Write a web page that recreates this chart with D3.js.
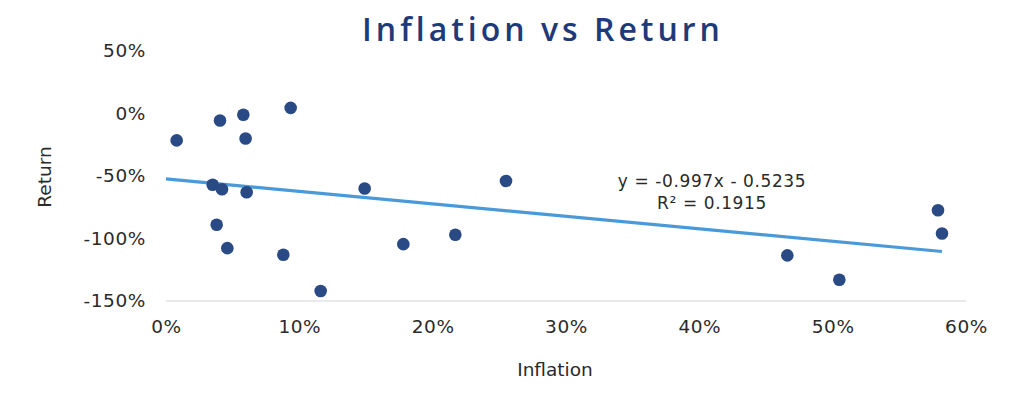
<!DOCTYPE html>
<html>
<head>
<meta charset="utf-8">
<script src="https://cdn.jsdelivr.net/npm/d3@7"></script>
<style>
  body { margin: 0; background: #fff; }
  text { font-family: "DejaVu Sans", sans-serif; }
</style>
</head>
<body>
<div id="chart"></div>
<script>
// data (inflation, return)
const inflation = [0.008, 0.0405, 0.058, 0.0935, 0.0597, 0.035, 0.042, 0.0605, 0.038, 0.046, 0.088, 0.116,
                   0.149, 0.178, 0.217, 0.255, 0.466, 0.505, 0.579, 0.582];
const returns = [-0.215, -0.056, -0.01, 0.045, -0.20, -0.57, -0.606, -0.63, -0.89, -1.077, -1.13, -1.42,
                 -0.60, -1.045, -0.97, -0.54, -1.135, -1.33, -0.774, -0.96];
const xTicks = [0, 0.1, 0.2, 0.3, 0.4, 0.5, 0.6];
const yTicks = [0.5, 0, -0.5, -1, -1.5];
const slope = -0.997, intercept = -0.5235;

const width = 1024, height = 400;
const svg = d3.select("#chart").append("svg")
    .attr("width", width)
    .attr("height", height);

let x = d3.scaleLinear().domain([0, 0.6]).range([166, 966]);
let y = d3.scaleLinear().domain([-1.5, 0.5]).range([301, 51]);
// plain hyphen instead of d3's unicode minus
const pct = d => Math.round(d * 100) + "%";

//title
svg.append("text")
    .attr("x", 543)
    .attr("y", 41)
    .attr("text-anchor", "middle")
    .attr("fill", "#1e3a78")
    .attr("font-size", 32)
    .attr("font-weight", 600)
    .attr("letter-spacing", 4)
    .style("font-family", "'Open Sans', sans-serif")
    .text("Inflation vs Return");

//baseline
svg.append("line")
    .attr("x1", x(0)).attr("x2", x(0.6))
    .attr("y1", y(-1.5)).attr("y2", y(-1.5))
    .attr("stroke", "#e2e2e6")
    .attr("stroke-width", 1.5);

//x axis
let axisX = svg.append("g")
    .attr("transform", `translate(0,${y(-1.5)})`)
    .call(d3.axisBottom(x).tickValues(xTicks).tickFormat(pct).tickSize(0).tickPadding(19));
axisX.select(".domain").remove();
axisX.selectAll("text").attr("font-size", 18.5).attr("fill", "#2a2a2a")
    .attr("letter-spacing", 0.6)
    .style("font-family", "'DejaVu Sans', sans-serif");

//y axis
let axisY = svg.append("g")
    .attr("transform", `translate(146,0)`)
    .call(d3.axisLeft(y).tickValues(yTicks).tickFormat(pct).tickSize(0).tickPadding(0));
axisY.select(".domain").remove();
axisY.selectAll("text").attr("font-size", 18.5).attr("fill", "#2a2a2a")
    .attr("letter-spacing", 0.6)
    .style("font-family", "'DejaVu Sans', sans-serif");

//axis titles
svg.append("text")
    .attr("x", 555).attr("y", 376)
    .attr("text-anchor", "middle")
    .attr("font-size", 18.5).attr("fill", "#2a2a2a")
    .text("Inflation");
svg.append("text")
    .attr("transform", "rotate(-90)")
    .attr("x", -177).attr("y", 51)
    .attr("text-anchor", "middle")
    .attr("font-size", 18.5).attr("fill", "#2a2a2a")
    .text("Return");

//trend line
const x0 = 0, x1 = d3.max(inflation);
svg.append("line")
    .attr("x1", x(x0)).attr("y1", y(slope * x0 + intercept))
    .attr("x2", x(x1)).attr("y2", y(slope * x1 + intercept))
    .attr("stroke", "#4a9ad9")
    .attr("stroke-width", 3.2);

//points
svg.append("g").selectAll("circle")
    .data(inflation)
    .join("circle")
    .attr("cx", d => x(d))
    .attr("cy", (d, i) => y(returns[i]))
    .attr("r", 6.3)
    .attr("fill", "#2a4a85");

//equation
svg.append("text")
    .attr("x", 712).attr("y", 187)
    .attr("text-anchor", "middle")
    .attr("font-size", 17).attr("fill", "#2a2a2a")
    .attr("letter-spacing", 0.6)
    .text("y = -0.997x - 0.5235");
svg.append("text")
    .attr("x", 712).attr("y", 209)
    .attr("text-anchor", "middle")
    .attr("font-size", 17).attr("fill", "#2a2a2a")
    .attr("letter-spacing", 0.6)
    .text("R² = 0.1915");
</script>
</body>
</html>
